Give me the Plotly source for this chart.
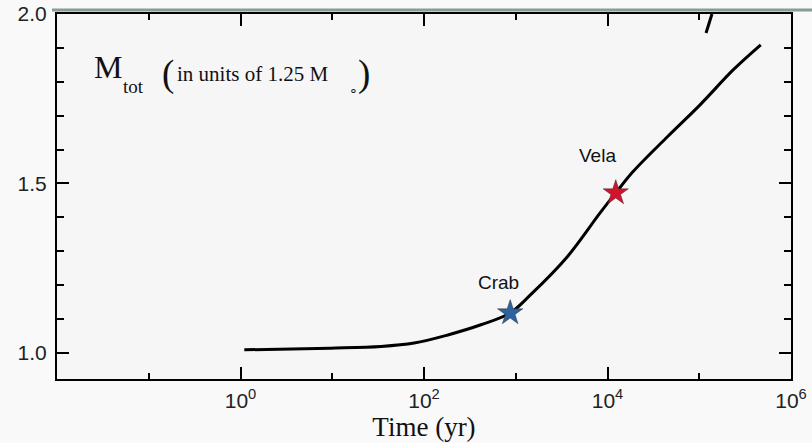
import math
import plotly.graph_objects as go

# ---- data ----
time_yr = [1.1, 9.5, 34, 78, 182, 417, 870, 1445, 3630, 8300, 12300, 19000, 44700, 102000, 234000, 468000]
m_tot = [1.009, 1.014, 1.019, 1.029, 1.053, 1.083, 1.118, 1.171, 1.283, 1.413, 1.472, 1.535, 1.637, 1.732, 1.835, 1.909]

pulsar_names = ["Crab", "Vela"]
pulsar_time = [870, 12300]
pulsar_mass = [1.118, 1.472]
pulsar_colors = ["#2c62a0", "#d3122c"]

x_major = [1, 100, 1e4, 1e6]
x_major_text = ["10<sup>0</sup>", "10<sup>2</sup>", "10<sup>4</sup>", "10<sup>6</sup>"]
x_minor = [0.1, 10, 1000, 1e5]
y_major = [1.0, 1.5, 2.0]
y_major_text = ["1.0", "1.5", "2.0"]

# ---- layout geometry (pixels) ----
W, H = 812, 443
L, R, T, B = 57, 21, 14, 64
pw, ph = W - L - R, H - T - B

def px(x):
    return (x - L) / pw

def py(y):
    return (H - B - y) / ph

fig = go.Figure()
fig.add_trace(go.Scatter(x=time_yr, y=m_tot, mode="lines",
                         line=dict(color="black", width=3, shape="spline", smoothing=1.0),
                         showlegend=False, hoverinfo="skip"))
fig.add_trace(go.Scatter(x=pulsar_time, y=pulsar_mass, mode="markers",
                         marker=dict(symbol="star", size=19, color=pulsar_colors,
                                     line=dict(color="#333", width=0.5)),
                         showlegend=False))

for name, t, m, dx, dy in zip(pulsar_names, pulsar_time, pulsar_mass, [-12, -18], [30, 37]):
    fig.add_annotation(x=math.log10(t), y=m, xref="x", yref="y",
                       text=name, showarrow=False, xshift=dx, yshift=dy,
                       font=dict(family="Liberation Sans", size=19, color="#111"))

serif = "Liberation Serif"
fig.add_annotation(x=px(92), y=py(87), xref="paper", yref="paper", xanchor="left", yanchor="bottom",
                   text="M", showarrow=False, font=dict(family=serif, size=32, color="#111"))
fig.add_annotation(x=px(121), y=py(99), xref="paper", yref="paper", xanchor="left", yanchor="bottom",
                   text="tot", showarrow=False, font=dict(family=serif, size=19, color="#111"))
fig.add_annotation(x=px(160), y=py(97), xref="paper", yref="paper", xanchor="left", yanchor="bottom",
                   text="(", showarrow=False, font=dict(family=serif, size=37, color="#111"))
fig.add_annotation(x=px(175), y=py(88), xref="paper", yref="paper", xanchor="left", yanchor="bottom",
                   text="in units of 1.25 M", showarrow=False, font=dict(family=serif, size=21, color="#111"))
fig.add_annotation(x=px(347), y=py(100), xref="paper", yref="paper", xanchor="left", yanchor="bottom",
                   text="∘", showarrow=False, font=dict(family=serif, size=14, color="#111"))
fig.add_annotation(x=px(356), y=py(97), xref="paper", yref="paper", xanchor="left", yanchor="bottom",
                   text=")", showarrow=False, font=dict(family=serif, size=37, color="#111"))

# decorative lines from the scan
fig.add_shape(type="line", xref="paper", yref="paper", x0=px(52), x1=px(812), y0=py(10), y1=py(10),
              line=dict(color="#8a9a98", width=3))
fig.add_shape(type="line", xref="paper", yref="paper", x0=px(712), x1=px(706), y0=py(14), y1=py(33),
              line=dict(color="black", width=3))

axis_common = dict(showline=True, linecolor="black", linewidth=2, mirror="ticks",
                   ticks="inside", ticklen=12, tickwidth=1.5, tickcolor="black",
                   showgrid=False, zeroline=False, automargin=False)

fig.update_xaxes(type="log", range=[-2, 6], tickvals=x_major, ticktext=x_major_text,
                 tickfont=dict(family="Liberation Sans", size=21, color="#222"),
                 ticklabelstandoff=2,
                 minor=dict(tickvals=x_minor, ticks="inside", ticklen=6, tickcolor="black", tickwidth=1.5),
                 title=dict(text="Time (yr)", font=dict(family=serif, size=27, color="#111"), standoff=6),
                 **axis_common)
fig.update_yaxes(range=[0.923, 2.0], tickvals=y_major, ticktext=y_major_text,
                 tickfont=dict(family="Liberation Sans", size=21, color="#222"),
                 ticklabelstandoff=4,
                 minor=dict(dtick=0.1, tick0=0, ticks="inside", ticklen=7, tickcolor="black", tickwidth=1.5),
                 **axis_common)

fig.update_layout(width=W, height=H, margin=dict(l=L, r=R, t=T, b=B),
                  plot_bgcolor="#f6f6f6", paper_bgcolor="#f9f9f9")

fig.write_html("out.html")
